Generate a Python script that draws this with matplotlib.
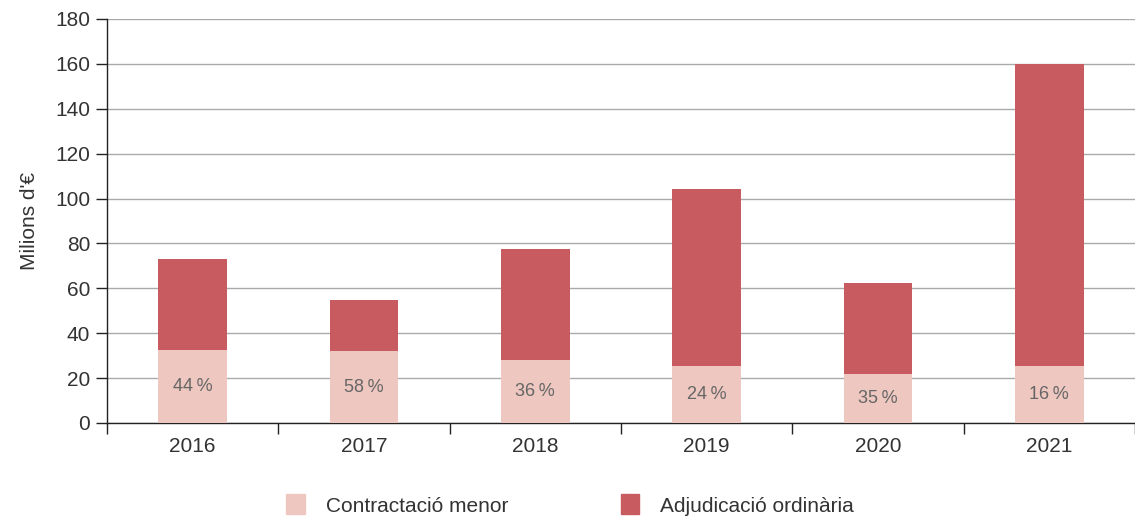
import matplotlib
matplotlib.use("Agg")
import matplotlib.pyplot as plt
from matplotlib.patches import Patch
import numpy as np

years = ["2016", "2017", "2018", "2019", "2020", "2021"]
totals = [73.2, 54.8, 77.6, 104.3, 62.4, 159.8]
menor = [32.4, 32.0, 28.1, 25.2, 21.9, 25.2]
pct_labels = ["44\u2009%", "58\u2009%", "36\u2009%", "24\u2009%", "35\u2009%", "16\u2009%"]
ordinaria = [t - m for t, m in zip(totals, menor)]

c_menor = "#EEC7C0"
c_ord = "#C85B5F"
txt = "#333333"

plt.rcParams['font.family'] = ['Liberation Sans', 'DejaVu Sans']

fig = plt.figure(figsize=(11.35, 5.18), dpi=100)
ax = fig.add_axes([107/1135, 1-423/518, (1135-107)/1135, (423-19)/518])

x = np.arange(len(years))
ax.bar(x, menor, width=0.4, color=c_menor, zorder=3)
ax.bar(x, ordinaria, width=0.4, bottom=menor, color=c_ord, zorder=3)
for xi, m, lab in zip(x, menor, pct_labels):
    ax.text(xi, m/2, lab, ha='center', va='center', fontsize=13, color='#666666', zorder=4)

ax.set_ylim(0, 180)
ax.set_xlim(-0.5, 5.465)
ax.set_yticks(range(0, 181, 20))
ax.set_xticks(x)
ax.set_xticklabels(years)
ax.set_xticks(np.arange(-0.5, 6, 1), minor=True)
ax.tick_params(axis='x', which='major', length=0, pad=10, labelsize=15, labelcolor=txt)
ax.tick_params(axis='x', which='minor', length=8, width=1, color='#222222', direction='out')
ax.tick_params(axis='y', length=8, width=1, color='#222222', labelsize=15, labelcolor=txt, pad=4)
ax.yaxis.grid(True, color='#AAAAAA', linewidth=1, zorder=0)
ax.set_axisbelow(True)
for s in ['top', 'right']:
    ax.spines[s].set_visible(False)
for s in ['left', 'bottom']:
    ax.spines[s].set_color('#222222')
    ax.spines[s].set_linewidth(1)
ax.set_ylabel("Milions d'€", fontsize=15, color=txt, labelpad=12)

handles = [Patch(color=c_menor, label="Contractació menor"), Patch(color=c_ord, label="Adjudicació ordinària")]
fig.legend(handles=handles, loc='center', bbox_to_anchor=(570/1135, 1-505/518), ncol=2, frameon=False,
           fontsize=15, handlelength=0.9, handleheight=1.1, columnspacing=5.4, handletextpad=1.0,
           labelcolor=txt)

fig.savefig("out.png", dpi=100)
